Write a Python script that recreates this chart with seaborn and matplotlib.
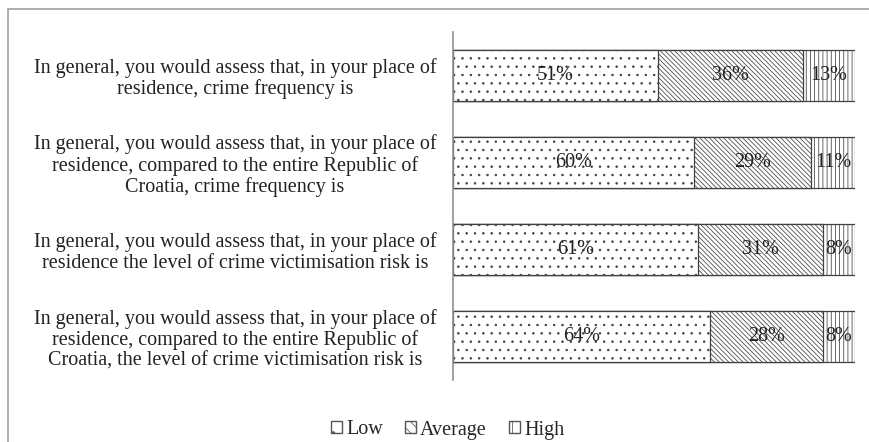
import numpy as np
import pandas as pd
import seaborn as sns
import matplotlib.pyplot as plt
from matplotlib.patches import Rectangle, Patch

questions = [
    "In general, you would assess that, in your place of\nresidence, crime frequency is",
    "In general, you would assess that, in your place of\nresidence, compared to the entire Republic of\nCroatia, crime frequency is",
    "In general, you would assess that, in your place of\nresidence the level of crime victimisation risk is",
    "In general, you would assess that, in your place of\nresidence, compared to the entire Republic of\nCroatia, the level of crime victimisation risk is",
]
low = [51, 60, 61, 64]
average = [36, 29, 31, 28]
high = [13, 11, 8, 8]
levels = ["Low", "Average", "High"]

sns.set_style("white")
plt.rcParams['font.family'] = ['Liberation Serif', 'DejaVu Serif']
plt.rcParams['hatch.color'] = '#9a9a9a'
plt.rcParams['hatch.linewidth'] = 0.55

df = pd.DataFrame({'q': questions, 'Low': low, 'Average': average, 'High': high})
df['c1'] = df['Low']
df['c2'] = df['Low'] + df['Average']
df['c3'] = df['c2'] + df['High']

fig = plt.figure(figsize=(8.69, 4.42), dpi=100)
ax = fig.add_axes([453/869, 62/442, 402/869, 348/442])

# stacked bars: draw cumulative totals from the largest down
hatches = {'c3': '||||', 'c2': '\\' * 7, 'c1': '..'}
hcolors = {'c3': '#707070', 'c2': '#959595', 'c1': '#b4b4b4'}
n = len(questions)
for col in ['c3', 'c2', 'c1']:
    sns.barplot(data=df, x=col, y='q', orient='h', color='white', width=0.58,
                edgecolor='#404040', linewidth=0.9, ax=ax)
    for p in ax.patches[-n:]:
        p.set_hatch(hatches[col])
        if hasattr(p, 'set_hatchcolor'):
            p.set_hatchcolor(hcolors[col])

# percentage labels
for i in range(n):
    starts = [0, low[i], low[i] + average[i]]
    vals = [low[i], average[i], high[i]]
    for s, v in zip(starts, vals):
        ax.text(s + v / 2, i, f"{v}%", ha='center', va='center', fontsize=14.5,
                color='#222222')

ax.set_xlim(0, 100)
ax.set_ylim(n - 0.5, -0.5)
ax.set_xlabel('')
ax.set_ylabel('')
ax.set_xticks([])
ax.tick_params(axis='y', length=0, pad=12)
ax.set_yticks(range(n))
ax.set_yticklabels(questions, fontsize=14.5, multialignment='center', color='#222222',
                   linespacing=1.1)
for sp in ['top', 'right', 'bottom']:
    ax.spines[sp].set_visible(False)
ax.spines['left'].set_color('#909090')
ax.spines['left'].set_linewidth(1.2)

# legend
handles = [Patch(facecolor='white', edgecolor='#555555', hatch=h, label=l)
           for h, l in zip(['.', '\\\\\\', '||'], levels)]
fig.legend(handles=handles, loc='center', bbox_to_anchor=(0.515, 1 - 430/442), ncol=3,
           frameon=False, fontsize=14.5, handlelength=0.55, handleheight=0.55,
           handletextpad=0.2, columnspacing=1.1)

# outer frame
fig.patches.append(Rectangle((8/869, -0.1), 1.1, 1 - 9/442 + 0.1, transform=fig.transFigure,
                             fill=False, edgecolor='#a0a0a0', linewidth=1.2))

fig.savefig('out.png', dpi=100)
